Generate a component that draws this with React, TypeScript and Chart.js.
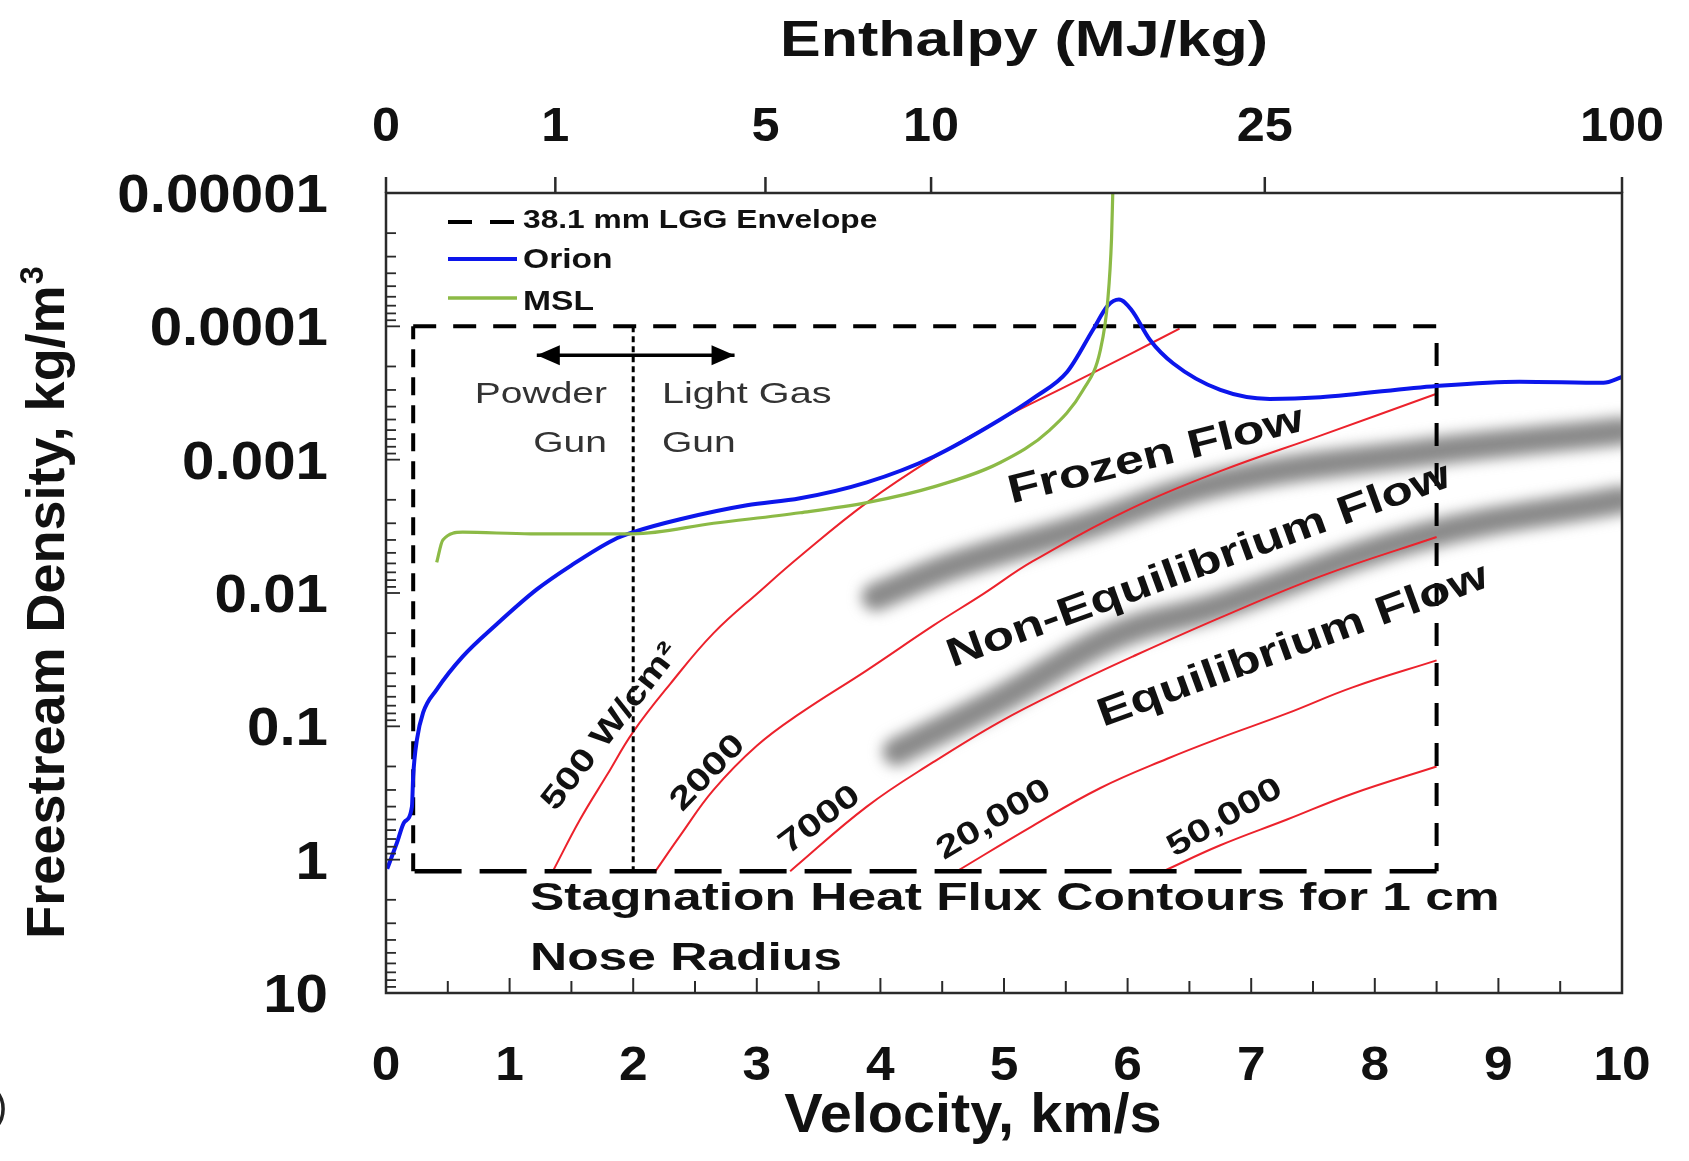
import { useEffect, useRef } from 'react';
import { Chart, registerables } from 'chart.js';

Chart.register(...registerables);

const W = 1689;
const H = 1161;

// ---------- data (velocity km/s, density kg/m^3) ----------
const orionVelocity = [0.01, 0.09, 0.15, 0.21, 0.22, 0.25, 0.3, 0.41, 0.62, 0.9, 1.22, 1.5, 1.84, 2.0, 2.38, 2.92, 3.35, 3.89, 4.43, 4.97, 5.25, 5.51, 5.72, 5.84, 5.93, 6.03, 6.18, 6.37, 6.75, 7.15, 7.56, 8.5, 9.17, 9.85, 10.0];
const orionDensity = [1.17, 0.74, 0.52, 0.4, 0.236, 0.126, 0.079, 0.053, 0.03, 0.017, 0.0094, 0.0062, 0.004, 0.0035, 0.0028, 0.0022, 0.00195, 0.00148, 0.00095, 0.0005, 0.00034, 0.00022, 0.000106, 0.00007, 0.000063, 0.000075, 0.000126, 0.00019, 0.0003, 0.00035, 0.00034, 0.00028, 0.00026, 0.000265, 0.00024];

const mslVelocity = [0.41, 0.46, 0.62, 1.17, 2.0, 2.65, 3.35, 3.89, 4.43, 4.97, 5.37, 5.64, 5.78, 5.84, 5.87, 5.88];
const mslDensity = [0.0059, 0.004, 0.0035, 0.0036, 0.0036, 0.003, 0.0025, 0.0021, 0.0016, 0.00105, 0.0006, 0.0003, 0.00015, 0.000063, 0.000022, 0.00001];

const q500Velocity = [1.35, 1.57, 1.79, 2.0, 2.3, 2.65, 3.03, 3.35, 3.89, 4.43, 4.97, 5.51, 6.04, 6.42];
const q500Density = [1.22, 0.5, 0.23, 0.11, 0.048, 0.02, 0.0096, 0.0053, 0.0021, 0.00097, 0.0005, 0.00028, 0.000158, 0.000104];

const q2000Velocity = [2.18, 2.38, 2.65, 3.0, 3.35, 3.89, 4.43, 4.83, 5.23, 6.04, 6.75, 7.56, 8.5];
const q2000Density = [1.22, 0.66, 0.3, 0.14, 0.08, 0.038, 0.0175, 0.0102, 0.0058, 0.0023, 0.00122, 0.00066, 0.00032];

const q7000Velocity = [3.27, 3.89, 4.43, 4.97, 5.51, 6.04, 6.75, 7.56, 8.5];
const q7000Density = [1.22, 0.4, 0.185, 0.092, 0.051, 0.03, 0.0153, 0.0075, 0.0038];

const q20000Velocity = [4.62, 5.23, 5.78, 6.32, 6.75, 7.29, 7.82, 8.5];
const q20000Density = [1.22, 0.56, 0.29, 0.175, 0.122, 0.08, 0.051, 0.032];

const q50000Velocity = [6.29, 6.75, 7.29, 7.82, 8.5];
const q50000Density = [1.22, 0.78, 0.5, 0.32, 0.2];

// shaded regime boundaries
const frozenBandVelocity = [3.96, 4.6, 5.59, 6.75, 8.37, 10.0];
const frozenBandDensity = [0.0107, 0.0062, 0.0033, 0.00148, 0.00089, 0.00061];
const equilBandVelocity = [4.13, 4.97, 5.9, 6.75, 8.37, 10.0];
const equilBandDensity = [0.155, 0.063, 0.021, 0.0124, 0.0038, 0.002];

// 38.1 mm LGG envelope corners
const envelopeVelocity = [0.22, 8.5];
const envelopeDensity = [0.0001, 1.22];

// powder gun / light gas gun divider and arrow
const gunDividerVelocity = 2.0;
const arrowVelocity = [1.22, 2.82];
const arrowDensity = 0.000165;

// ticks
const velocityTicks = [0, 1, 2, 3, 4, 5, 6, 7, 8, 9, 10];
const densityTicks = [0.00001, 0.0001, 0.001, 0.01, 0.1, 1, 10];
const densityTickLabels = ['0.00001', '0.0001', '0.001', '0.01', '0.1', '1', '10'];
const enthalpyTickLabels = ['0', '1', '5', '10', '25', '100'];
const enthalpyTickVelocity = [0, 1.37, 3.07, 4.41, 7.11, 10];

// ---------- helpers ----------
const pts = (xs: number[], ys: number[]) => xs.map((x, i) => ({ x, y: ys[i] }));

const FONT = '"Liberation Sans", Arial, Helvetica, sans-serif';
const BLUE = 'rgb(12,22,235)';
const GREEN = 'rgb(140,186,70)';
const RED = 'rgb(236,34,44)';
const BAND = 'rgba(122,122,122,0.88)';

type TextOpts = {
  size: number;
  weight?: string;
  stretch?: number;
  align?: CanvasTextAlign;
  baseline?: CanvasTextBaseline;
  angle?: number;
  color?: string;
};

function drawText(ctx: CanvasRenderingContext2D, s: string, x: number, y: number, o: TextOpts) {
  ctx.save();
  ctx.translate(x, y);
  if (o.angle) ctx.rotate((o.angle * Math.PI) / 180);
  ctx.scale(o.stretch ?? 1, 1);
  ctx.font = `${o.weight ?? 'bold'} ${o.size}px ${FONT}`;
  ctx.textAlign = o.align ?? 'left';
  ctx.textBaseline = o.baseline ?? 'alphabetic';
  ctx.fillStyle = o.color ?? '#111';
  ctx.fillText(s, 0, 0);
  ctx.restore();
}

function seg(ctx: CanvasRenderingContext2D, x1: number, y1: number, x2: number, y2: number) {
  ctx.beginPath();
  ctx.moveTo(x1, y1);
  ctx.lineTo(x2, y2);
  ctx.stroke();
}

// free annotations (canvas pixel positions)
const annotations: { t: string; x: number; y: number; o: TextOpts }[] = [
  { t: 'Powder', x: 607, y: 403, o: { size: 30, weight: 'normal', stretch: 1.3, align: 'right', color: '#333' } },
  { t: 'Gun', x: 607, y: 452, o: { size: 30, weight: 'normal', stretch: 1.3, align: 'right', color: '#333' } },
  { t: 'Light Gas', x: 662, y: 403, o: { size: 30, weight: 'normal', stretch: 1.32, align: 'left', color: '#333' } },
  { t: 'Gun', x: 662, y: 452, o: { size: 30, weight: 'normal', stretch: 1.3, align: 'left', color: '#333' } },
  { t: 'Stagnation Heat Flux Contours for 1 cm', x: 530, y: 910, o: { size: 39, stretch: 1.32 } },
  { t: 'Nose Radius', x: 530, y: 970, o: { size: 39, stretch: 1.32 } },
  { t: '500 W/cm²', x: 611, y: 727, o: { size: 32, stretch: 1.28, align: 'center', baseline: 'middle', angle: -52 } },
  { t: '2000', x: 708, y: 773, o: { size: 32, stretch: 1.3, align: 'center', baseline: 'middle', angle: -46 } },
  { t: '7000', x: 820, y: 820, o: { size: 32, stretch: 1.3, align: 'center', baseline: 'middle', angle: -37 } },
  { t: '20,000', x: 994, y: 820, o: { size: 32, stretch: 1.3, align: 'center', baseline: 'middle', angle: -31 } },
  { t: '50,000', x: 1225, y: 818, o: { size: 32, stretch: 1.3, align: 'center', baseline: 'middle', angle: -30 } },
  { t: 'Frozen Flow', x: 1156, y: 456, o: { size: 40, stretch: 1.3, align: 'center', baseline: 'middle', angle: -14 } },
  { t: 'Non-Equilibrium Flow', x: 1199, y: 566, o: { size: 40, stretch: 1.29, align: 'center', baseline: 'middle', angle: -20 } },
  { t: 'Equilibrium Flow', x: 1293, y: 646, o: { size: 40, stretch: 1.28, align: 'center', baseline: 'middle', angle: -20 } },
  { t: ')', x: -6, y: 1120, o: { size: 40, weight: 'normal', color: '#222' } },
];

const decorPlugin = {
  id: 'decor',
  beforeDatasetDraw(chart: any, args: any) {
    const ds = chart.data.datasets[args.index];
    if (ds.blurPx) {
      chart.ctx.save();
      chart.ctx.filter = `blur(${ds.blurPx}px)`;
    }
  },
  afterDatasetDraw(chart: any, args: any) {
    const ds = chart.data.datasets[args.index];
    if (ds.blurPx) chart.ctx.restore();
  },
  afterDatasetsDraw(chart: any) {
    const ctx: CanvasRenderingContext2D = chart.ctx;
    const a = chart.chartArea;
    const xs = chart.scales.x;
    const ys = chart.scales.y;
    ctx.save();

    // arrow heads
    const arrowIdx = chart.data.datasets.findIndex((d: any) => d.label === 'arrow');
    if (arrowIdx >= 0) {
      const m = chart.getDatasetMeta(arrowIdx).data;
      const p0 = m[0];
      const p1 = m[m.length - 1];
      ctx.fillStyle = '#000';
      ctx.beginPath();
      ctx.moveTo(p0.x, p0.y);
      ctx.lineTo(p0.x + 23, p0.y - 10);
      ctx.lineTo(p0.x + 23, p0.y + 10);
      ctx.closePath();
      ctx.fill();
      ctx.beginPath();
      ctx.moveTo(p1.x, p1.y);
      ctx.lineTo(p1.x - 23, p1.y - 10);
      ctx.lineTo(p1.x - 23, p1.y + 10);
      ctx.closePath();
      ctx.fill();
    }

    // frame
    ctx.strokeStyle = '#2a2a2a';
    ctx.lineWidth = 2.5;
    ctx.strokeRect(a.left, a.top, a.right - a.left, a.bottom - a.top);

    // left minor/major ticks (inward)
    ctx.lineWidth = 1.8;
    for (let e = -5; e <= 0; e++) {
      for (let k = 1; k <= 9; k++) {
        const y = ys.getPixelForValue(k * Math.pow(10, e));
        seg(ctx, a.left, y, a.left + (k === 1 ? 14 : 10), y);
      }
    }
    // bottom ticks (inward)
    ctx.lineWidth = 2;
    for (let i = 1; i < 20; i++) {
      const x = xs.getPixelForValue(i * 0.5);
      seg(ctx, x, a.bottom, x, a.bottom - (i % 2 === 0 ? 15 : 12));
    }
    // top enthalpy ticks (outward)
    ctx.lineWidth = 2.5;
    enthalpyTickVelocity.forEach((v) => {
      const x = xs.getPixelForValue(v);
      seg(ctx, x, a.top, x, a.top - 16);
    });

    // tick labels
    velocityTicks.forEach((v) => {
      drawText(ctx, String(v), xs.getPixelForValue(v), 1080, { size: 49, stretch: 1.05, align: 'center' });
    });
    enthalpyTickVelocity.forEach((v, i) => {
      drawText(ctx, enthalpyTickLabels[i], xs.getPixelForValue(v), 141, { size: 48, stretch: 1.05, align: 'center' });
    });
    densityTicks.forEach((d, i) => {
      drawText(ctx, densityTickLabels[i], 328, ys.getPixelForValue(d) + 19, { size: 53, stretch: 1.1, align: 'right' });
    });

    // axis titles
    drawText(ctx, 'Enthalpy (MJ/kg)', 1024, 56, { size: 50, stretch: 1.22, align: 'center' });
    drawText(ctx, 'Velocity, km/s', 973, 1132, { size: 56, stretch: 1.03, align: 'center' });
    {
      const size = 54;
      ctx.save();
      ctx.translate(64, 603);
      ctx.rotate(-Math.PI / 2);
      ctx.font = `bold ${size}px ${FONT}`;
      const main = 'Freestream Density, kg/m';
      const wMain = ctx.measureText(main).width;
      ctx.font = `bold ${size * 0.6}px ${FONT}`;
      const wSup = ctx.measureText('3').width;
      const start = -(wMain + wSup) / 2;
      ctx.fillStyle = '#111';
      ctx.textBaseline = 'alphabetic';
      ctx.textAlign = 'left';
      ctx.font = `bold ${size}px ${FONT}`;
      ctx.fillText(main, start, 0);
      ctx.font = `bold ${size * 0.6}px ${FONT}`;
      ctx.fillText('3', start + wMain + 1, -size * 0.38);
      ctx.restore();
    }

    // legend
    ctx.strokeStyle = '#000';
    ctx.lineWidth = 4;
    ctx.setLineDash([24, 18]);
    seg(ctx, 448, 222, 514, 222);
    ctx.setLineDash([]);
    ctx.strokeStyle = BLUE;
    ctx.lineWidth = 4;
    seg(ctx, 448, 259, 517, 259);
    ctx.strokeStyle = GREEN;
    ctx.lineWidth = 3.5;
    seg(ctx, 448, 298, 517, 298);
    drawText(ctx, '38.1 mm LGG Envelope', 523, 228, { size: 26, stretch: 1.22 });
    drawText(ctx, 'Orion', 523, 268, { size: 28, stretch: 1.2 });
    drawText(ctx, 'MSL', 523, 310, { size: 28, stretch: 1.2 });

    annotations.forEach((n) => drawText(ctx, n.t, n.x, n.y, n.o));
    ctx.restore();
  },
};

export default function App() {
  const ref = useRef<HTMLCanvasElement>(null);

  useEffect(() => {
    if (!ref.current) return;
    const [vL, vR] = envelopeVelocity;
    const [dTop, dBot] = envelopeDensity;
    const base = { pointRadius: 0, fill: false, tension: 0 };
    const curve = { ...base, cubicInterpolationMode: 'monotone' as const };
    const smooth = { ...base, tension: 0.4 };

    const chart = new Chart(ref.current, {
      type: 'line',
      data: {
        datasets: [
          { ...curve, label: 'MSL', data: pts(mslVelocity, mslDensity), borderColor: GREEN, borderWidth: 3.2, order: 1 },
          { ...curve, label: 'Orion', data: pts(orionVelocity, orionDensity), borderColor: BLUE, borderWidth: 4, order: 2 },
          { ...base, label: 'arrow', data: pts(arrowVelocity, [arrowDensity, arrowDensity]), borderColor: '#000', borderWidth: 3.5, order: 4 },
          { ...base, label: 'divider', data: pts([gunDividerVelocity, gunDividerVelocity], [dTop, dBot]), borderColor: '#000', borderWidth: 3, borderDash: [6, 4], order: 5 },
          { ...base, label: '38.1 mm LGG Envelope', data: pts([vL, vR, vR], [dTop, dTop, dBot]), borderColor: '#000', borderWidth: 4, borderDash: [23, 17], order: 5 },
          { ...base, label: 'envelope bottom', data: pts([vR, vL], [dBot, dBot]), borderColor: '#000', borderWidth: 4.5, borderDash: [47, 18], order: 5 },
          { ...base, label: 'envelope left', data: pts([vL, vL], [dBot, dTop]), borderColor: '#000', borderWidth: 4, borderDash: [18, 10], order: 5 },
          { ...smooth, label: '500', data: pts(q500Velocity, q500Density), borderColor: RED, borderWidth: 2, order: 6 },
          { ...smooth, label: '2000', data: pts(q2000Velocity, q2000Density), borderColor: RED, borderWidth: 2, order: 6 },
          { ...smooth, label: '7000', data: pts(q7000Velocity, q7000Density), borderColor: RED, borderWidth: 2, order: 6 },
          { ...smooth, label: '20000', data: pts(q20000Velocity, q20000Density), borderColor: RED, borderWidth: 2, order: 6 },
          { ...smooth, label: '50000', data: pts(q50000Velocity, q50000Density), borderColor: RED, borderWidth: 2, order: 6 },
          { ...smooth, label: 'frozen band', data: pts(frozenBandVelocity, frozenBandDensity), borderColor: BAND, borderWidth: 28, borderCapStyle: 'round', clip: 0, blurPx: 7, order: 10 } as any,
          { ...smooth, label: 'equil band', data: pts(equilBandVelocity, equilBandDensity), borderColor: BAND, borderWidth: 28, borderCapStyle: 'round', clip: 0, blurPx: 7, order: 10 } as any,
        ],
      },
      options: {
        responsive: false,
        maintainAspectRatio: false,
        animation: false,
        devicePixelRatio: 1,
        parsing: false as any,
        normalized: true,
        events: [],
        layout: { padding: { left: 386, top: 193, right: 67, bottom: 168 } },
        scales: {
          x: { type: 'linear', min: 0, max: 10, display: false },
          y: { type: 'logarithmic', min: 0.00001, max: 10, reverse: true, display: false },
        },
        plugins: {
          legend: { display: false },
          tooltip: { enabled: false },
          title: { display: false },
        },
      },
      plugins: [decorPlugin],
    });
    return () => chart.destroy();
  }, []);

  return (
    <div style={{ position: 'fixed', left: 0, top: 0, width: W, height: H, background: '#fff' }}>
      <canvas ref={ref} width={W} height={H} style={{ display: 'block', width: W, height: H }} />
    </div>
  );
}
